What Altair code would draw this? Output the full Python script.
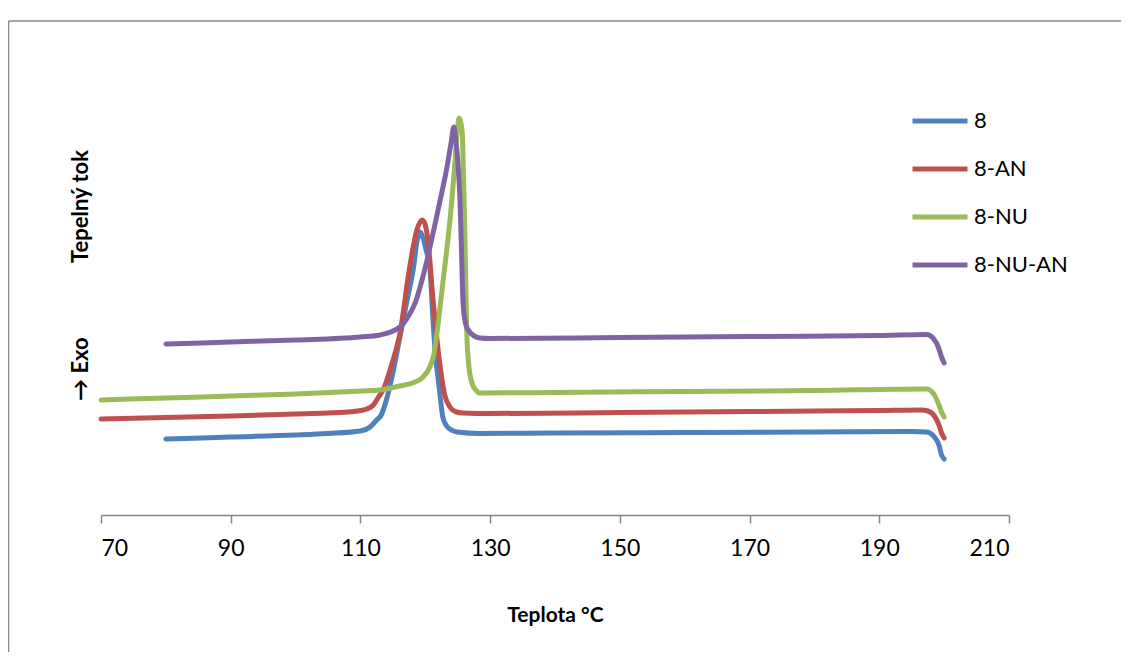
import altair as alt
import pandas as pd

# ---------------- data ----------------
series_names = ["8", "8-AN", "8-NU", "8-NU-AN"]
series_colors = ["#4F81BD", "#C0504D", "#9BBB59", "#8064A2"]

T_8 = [80, 90, 100, 105, 110, 111.5, 112.5, 113.2, 114, 115, 116, 117.2, 118.2, 118.7,
       119.2, 119.6, 120.2, 120.7, 121.1, 121.5, 122.1, 122.7, 123.3, 123.8, 124.9,
       128.4, 140, 160, 180, 195, 197.3, 198.5, 199.2, 199.6, 200]
q_8 = [7.6, 7.8, 8.0, 8.15, 8.4, 8.8, 9.5, 10.0, 11.5, 14.2, 17.5, 21.5, 24.8, 27.3,
       28.3, 27.8, 26.3, 24.8, 20.5, 16.5, 13.0, 9.8, 8.9, 8.6, 8.3,
       8.15, 8.2, 8.25, 8.3, 8.35, 8.3, 7.8, 7.0, 6.0, 5.6]

T_8AN = [70, 80, 90, 100, 108, 110, 111, 112, 112.8, 113.5, 114.8, 116.1, 117.6, 118.7,
         119.5, 119.9, 120.4, 121.2, 122.3, 123.0, 123.8, 124.8, 125.8, 130, 150, 170,
         190, 196.5, 197.5, 198.5, 199.2, 199.6, 200]
q_8AN = [9.6, 9.75, 9.9, 10.1, 10.3, 10.45, 10.6, 11.0, 11.8, 12.5, 15.0, 18.2, 24.8, 28.5,
         29.5, 29.2, 27.5, 21.5, 14.8, 12.0, 10.8, 10.3, 10.2, 10.15, 10.25, 10.35,
         10.45, 10.5, 10.4, 9.9, 9.0, 8.2, 7.7]

T_8NU = [70, 80, 90, 100, 110, 113, 116, 118, 119.5, 120.7, 121.3, 121.8, 122.4, 123.0,
         123.6, 124.1, 124.6, 124.9, 125.2, 125.5, 125.7, 125.9, 126.1, 126.25, 126.4,
         126.7, 127.2, 127.8, 128.4, 140, 160, 180, 197.3, 198.5, 199.2, 199.6, 200]
q_8NU = [11.5, 11.7, 11.9, 12.1, 12.4, 12.5, 12.9, 13.2, 13.7, 14.8, 16.0, 18.2, 21.5, 24.8,
         28.2, 31.5, 35.5, 38.2, 39.7, 39.2, 38.2, 33.5, 28.2, 23.0, 18.2,
         15.0, 13.2, 12.5, 12.2, 12.25, 12.35, 12.45, 12.6, 12.0, 11.0, 10.3, 9.8]

T_8NUAN = [80, 90, 100, 110, 113, 116.1, 117.5, 118.5, 119.2, 120.2, 121.2, 122.3, 123.35,
           124.0, 124.4, 124.7, 125.0, 125.35, 125.6, 125.8, 126.1, 126.6, 128.4, 130,
           150, 170, 190, 197.3, 198.4, 199.1, 199.6, 200]
q_8NUAN = [17.1, 17.3, 17.5, 17.8, 18.0, 18.8, 20.0, 21.3, 22.8, 25.3, 28.2, 31.5, 34.8,
           37.3, 38.8, 37.5, 35.5, 31.5, 26.0, 21.5, 19.5, 18.5, 17.7, 17.65,
           17.75, 17.85, 17.95, 18.05, 17.6, 16.8, 15.8, 15.2]

x_ticks = [70, 90, 110, 130, 150, 170, 190, 210]
x_title = "Teplota °C"
y_title = "\u2192 Exo" + "\u00a0" * 14 + "Tepelný tok"

# ---------------- table ----------------
rows = []
for name, ts, qs in zip(series_names, [T_8, T_8AN, T_8NU, T_8NUAN], [q_8, q_8AN, q_8NU, q_8NUAN]):
    for i, (t, q) in enumerate(zip(ts, qs)):
        rows.append({"sample": name, "T": t, "q": q, "i": i})
df = pd.DataFrame(rows)

FONT = "Lato"
GREY = "#868686"

lines = alt.Chart(df).mark_line(
    strokeWidth=5, interpolate="monotone", strokeCap="round", strokeJoin="round"
).encode(
    x=alt.X("T:Q", scale=alt.Scale(domain=[70, 210], nice=False),
            axis=alt.Axis(values=x_ticks, title=x_title, grid=False,
                          domainColor=GREY, domainWidth=1.5, tickColor=GREY, tickWidth=1.5,
                          tickSize=8, labelFont=FONT, labelFontSize=23, labelColor="black",
                          labelPadding=14, titleFont=FONT, titleFontSize=21,
                          titleFontWeight="bold", titleColor="black", titlePadding=44)),
    y=alt.Y("q:Q", scale=alt.Scale(domain=[0, 48], nice=False, zero=False),
            axis=alt.Axis(title=y_title, labels=False, ticks=False, domain=False, grid=False,
                          titleFont=FONT, titleFontSize=22, titleFontWeight="bold",
                          titleColor="black", titlePadding=9)),
    color=alt.Color("sample:N", scale=alt.Scale(domain=series_names, range=series_colors),
                    legend=alt.Legend(title=None, orient="none", legendX=809, legendY=74,
                                      symbolType="stroke", symbolSize=3025, symbolStrokeWidth=5,
                                      labelFont=FONT, labelFontSize=22, labelColor="black",
                                      labelOffset=4, clipHeight=24, rowPadding=24, padding=0)),
    order="i:Q",
)

frame_src = pd.DataFrame({"k": [0]})
frame_top = alt.Chart(frame_src).mark_rule(stroke="#8A8A8A", strokeWidth=1.5, clip=False).encode(
    x=alt.value(-92.5), x2=alt.value(1040), y=alt.value(-14), y2=alt.value(-14))
frame_left = alt.Chart(frame_src).mark_rule(stroke="#8A8A8A", strokeWidth=1.5, clip=False).encode(
    x=alt.value(-92.5), x2=alt.value(-92.5), y=alt.value(-14), y2=alt.value(640))

chart = alt.layer(frame_top, frame_left, lines).properties(
    width=908, height=480,
    padding={"left": 93, "top": 27, "right": 112, "bottom": 137},
    autosize=alt.AutoSizeParams(type="none"),
).configure_view(strokeWidth=0)

chart.save("out.html", embed_options={"renderer": "svg", "actions": False})
